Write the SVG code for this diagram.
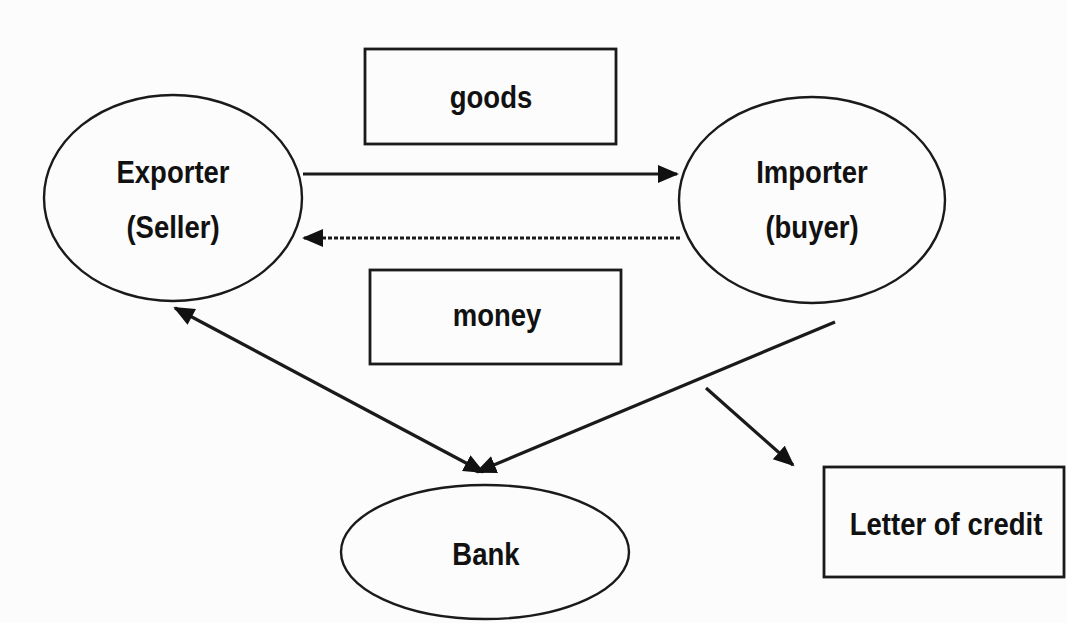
<svg xmlns="http://www.w3.org/2000/svg" width="1067" height="623" viewBox="0 0 1067 623">
<style>
.shape{fill:none;stroke:#1a1a1a;stroke-width:2.4}
.box{fill:none;stroke:#1a1a1a;stroke-width:2.8}
.lbl{font-family:"Liberation Sans",Arial,sans-serif;font-weight:bold;font-size:32px;fill:#111;text-anchor:middle}
.conn{fill:none;stroke:#1a1a1a;stroke-width:3.2}
.dot{stroke-dasharray:4 2}
</style>
<defs>
<marker id="ah" markerUnits="userSpaceOnUse" markerWidth="22" markerHeight="20" refX="19" refY="9" orient="auto">
<path d="M0,0 L21,9 L0,18 Z" fill="#111"/>
</marker>
<marker id="ahs" markerUnits="userSpaceOnUse" markerWidth="22" markerHeight="20" refX="2" refY="9" orient="auto">
<path d="M21,0 L0,9 L21,18 Z" fill="#111"/>
</marker>
</defs>
<rect width="1067" height="623" fill="#fcfcfc"/>
<g id="connectors">
<line class="conn" x1="303" y1="174" x2="677" y2="174" marker-end="url(#ah)"/>
<line class="conn dot" x1="680" y1="238" x2="304" y2="238" marker-end="url(#ah)"/>
<line class="conn" x1="175" y1="308" x2="483" y2="472" marker-start="url(#ahs)" marker-end="url(#ah)"/>
<line class="conn" x1="835" y1="322" x2="477" y2="472" marker-end="url(#ah)"/>
<line class="conn" x1="706" y1="388" x2="793" y2="465" marker-end="url(#ah)"/>
</g>
<g id="exporter">
<ellipse class="shape" cx="173" cy="198" rx="129" ry="103"/>
<text class="lbl" transform="translate(173,183) scale(0.86,1)">Exporter</text>
<text class="lbl" transform="translate(173,238) scale(0.86,1)">(Seller)</text>
</g>
<g id="importer">
<ellipse class="shape" cx="812" cy="200" rx="133" ry="103"/>
<text class="lbl" transform="translate(812,183) scale(0.86,1)">Importer</text>
<text class="lbl" transform="translate(812,238) scale(0.86,1)">(buyer)</text>
</g>
<g id="goods">
<rect class="box" x="365" y="49" width="251" height="95"/>
<text class="lbl" transform="translate(491,108) scale(0.86,1)">goods</text>
</g>
<g id="money">
<rect class="box" x="370" y="270" width="251" height="94"/>
<text class="lbl" transform="translate(497,326) scale(0.86,1)">money</text>
</g>
<g id="bank">
<ellipse class="shape" cx="485" cy="552" rx="144" ry="67"/>
<text class="lbl" transform="translate(486,565) scale(0.86,1)">Bank</text>
</g>
<g id="letter">
<rect class="box" x="824" y="467" width="240" height="110"/>
<text class="lbl" transform="translate(946,535) scale(0.86,1)">Letter of credit</text>
</g>
</svg>
